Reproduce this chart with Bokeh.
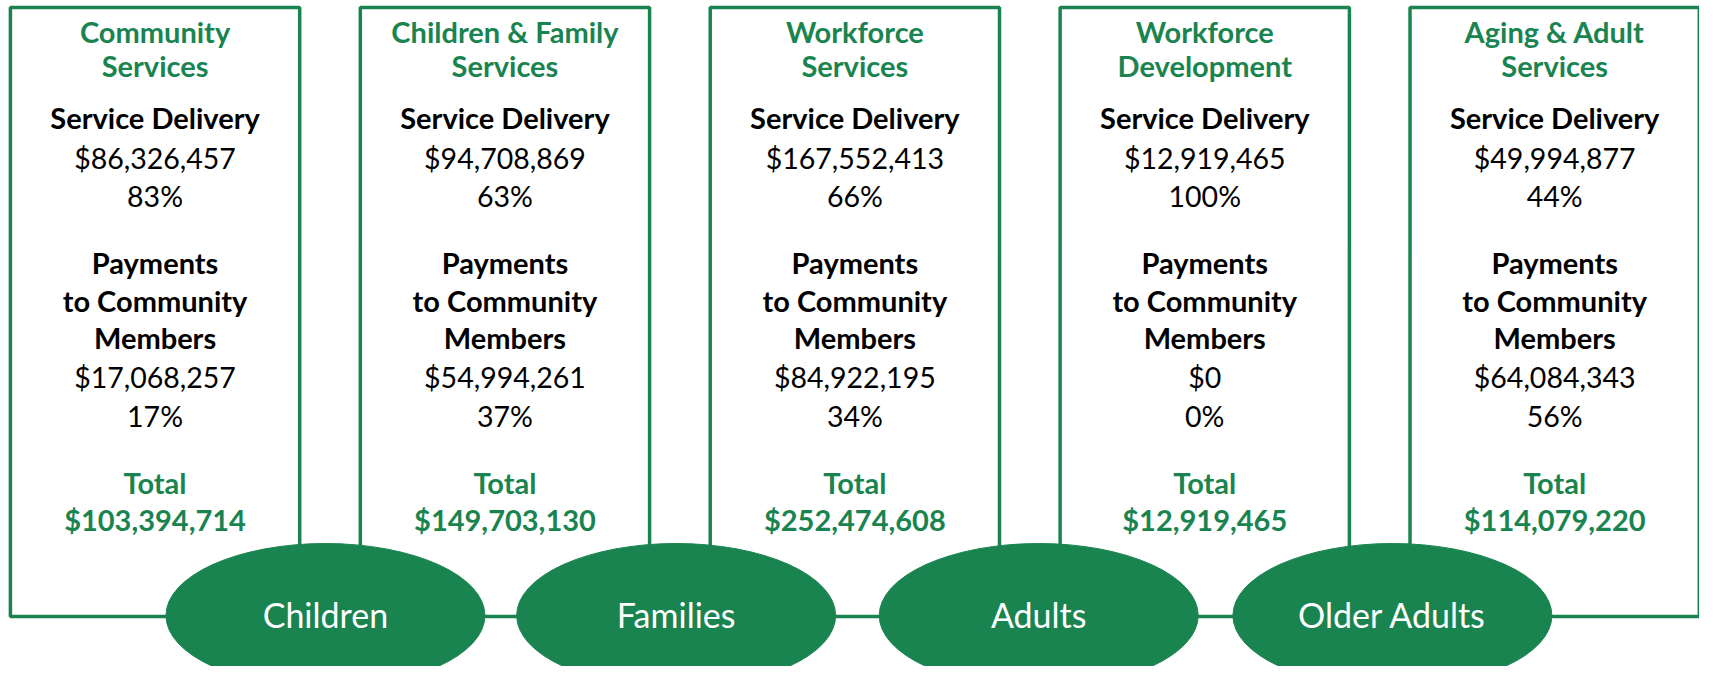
from bokeh.plotting import figure
from bokeh.models import Range1d
from bokeh.core.properties import value
from bokeh.embed import file_html
from bokeh.resources import INLINE

# ---- data ----
dept_line1 = ["Community", "Children & Family", "Workforce", "Workforce", "Aging & Adult"]
dept_line2 = ["Services", "Services", "Services", "Development", "Services"]
service_delivery = [86326457, 94708869, 167552413, 12919465, 49994877]
service_pct = [83, 63, 66, 100, 44]
payments = [17068257, 54994261, 84922195, 0, 64084343]
payments_pct = [17, 37, 34, 0, 56]
totals = [103394714, 149703130, 252474608, 12919465, 114079220]
groups = ["Children", "Families", "Adults", "Older Adults"]

GREEN = "#1a8450"
FONT = "Lato"

# ---- layout (pixel coordinates of the reference) ----
box_w, box_step, box_x0 = 292, 353.2, 156
box_top, box_bot = 7, 616
n = len(totals)
bx = [box_x0 + box_step * i for i in range(n)]

ell_x = [328, 682, 1048, 1405]
ell_y = 615
ell_w, ell_h = 322, 144

p = figure(width=1699, height=666, output_backend="svg", toolbar_location=None,
           x_range=Range1d(0, 1715), y_range=Range1d(666, 0), min_border=0)
p.axis.visible = False
p.grid.visible = False
p.outline_line_color = None
p.background_fill_color = "white"

# boxes
p.quad(left=[x - box_w / 2 for x in bx], right=[x + box_w / 2 for x in bx],
       top=[box_top] * n, bottom=[box_bot] * n,
       fill_color="white", line_color=GREEN, line_width=3.5)

# ellipses
p.ellipse(x=ell_x, y=[ell_y] * len(groups), width=ell_w, height=ell_h,
          fill_color=GREEN, line_color=GREEN)
p.text(x=ell_x, y=[ell_y - 1] * len(groups), text=groups, text_color="white",
       text_font=value(FONT), text_font_size="34px",
       text_align="center", text_baseline="middle")

def money(v):
    return "${:,}".format(v)

def row(texts, y, color, bold, size):
    p.text(x=bx, y=[y - 2] * n, text=texts, text_color=color,
           text_font=value(FONT), text_font_size=size,
           text_font_style="bold" if bold else "normal",
           text_align="center", text_baseline="middle")

B, R = "29px", "28.5px"
row(dept_line1, 33, GREEN, True, B)
row(dept_line2, 67, GREEN, True, B)
row(["Service Delivery"] * n, 119, "black", True, B)
row([money(v) for v in service_delivery], 159, "black", False, R)
row([f"{v}%" for v in service_pct], 197, "black", False, R)
row(["Payments"] * n, 264, "black", True, B)
row(["to Community"] * n, 302, "black", True, B)
row(["Members"] * n, 339, "black", True, B)
row([money(v) for v in payments], 378, "black", False, R)
row([f"{v}%" for v in payments_pct], 417, "black", False, R)
row(["Total"] * n, 484, GREEN, True, B)
row([money(v) for v in totals], 521, GREEN, True, B)

open("out.html", "w").write(file_html(p, INLINE))
